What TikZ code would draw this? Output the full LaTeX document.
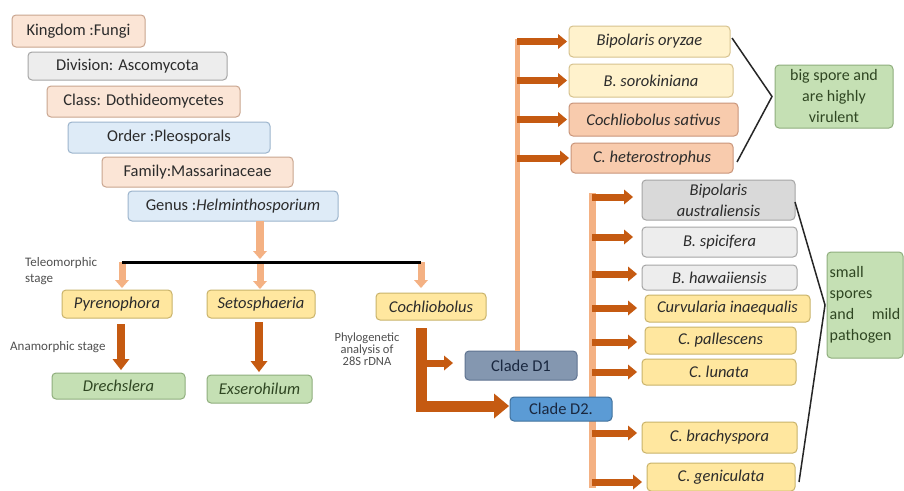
\documentclass[tikz,border=0pt]{standalone}
\usepackage{fontspec}
\setmainfont{Carlito}
\usetikzlibrary{arrows.meta}
\definecolor{txt}{HTML}{2B2B2B}
\definecolor{smalltxt}{HTML}{505050}
\definecolor{peachF}{HTML}{FBE5D6}\definecolor{peachD}{HTML}{C9A58F}
\definecolor{grayF}{HTML}{EDEDED}\definecolor{grayD}{HTML}{A5A5A5}
\definecolor{gray2F}{HTML}{D9D9D9}
\definecolor{blueF}{HTML}{DEEBF7}\definecolor{blueD}{HTML}{9CB4CC}
\definecolor{yelF}{HTML}{FFE79F}\definecolor{yelD}{HTML}{C9B36A}
\definecolor{lyelF}{HTML}{FFF2CC}\definecolor{lyelD}{HTML}{D6C28E}
\definecolor{salF}{HTML}{F8CBAD}\definecolor{salD}{HTML}{C9957A}
\definecolor{grnF}{HTML}{C5E0B4}\definecolor{grnD}{HTML}{8FAE7D}\definecolor{grnT}{HTML}{2F4622}
\definecolor{d1F}{HTML}{8497B0}\definecolor{d1D}{HTML}{5F7390}
\definecolor{d2F}{HTML}{5B9BD5}\definecolor{d2D}{HTML}{41719C}
\definecolor{navy}{HTML}{1A2840}
\definecolor{darkor}{HTML}{C55A11}
\definecolor{lsal}{HTML}{F4B183}
\newcommand\mybox[7]{\node[#1,minimum width={#5-#3},minimum height={#6-#4}] (#2) at ({(#3+#5)/2},{(#4+#6)/2}) {#7};}
\begin{document}
\begin{tikzpicture}[x=1pt,y=-1pt,
  box/.style={rounded corners=4pt,line width=1pt,inner sep=1pt,outer sep=0pt,
    font=\fontsize{16.5}{20}\selectfont,text=txt,align=center},
  peach/.style={box,fill=peachF,draw=peachD},
  grayb/.style={box,fill=grayF,draw=grayD},
  gray2b/.style={box,fill=gray2F,draw=grayD},
  blueb/.style={box,fill=blueF,draw=blueD},
  yelb/.style={box,fill=yelF,draw=yelD,font=\fontsize{16.5}{20}\selectfont\itshape},
  lyelb/.style={box,fill=lyelF,draw=lyelD,font=\fontsize{16.5}{20}\selectfont\itshape},
  salb/.style={box,fill=salF,draw=salD,font=\fontsize{16.5}{20}\selectfont\itshape},
  grnb/.style={box,fill=grnF,draw=grnD,text=grnT,font=\fontsize{16.5}{20}\selectfont\itshape},
  greenNote/.style={box,fill=grnF,draw=grnD,text=grnT,font=\fontsize{16}{21}\selectfont},
  smalllbl/.style={font=\fontsize{13}{16}\selectfont,text=smalltxt,inner sep=0pt},
  darr/.style={draw=darkor,line width=7pt,-{Triangle[length=9pt,width=15pt,line width=0pt]}},
  darrbig/.style={draw=darkor,line width=8pt,-{Triangle[length=11pt,width=17pt,line width=0pt]}},
  thickarr/.style={draw=darkor,line width=11pt,-{Triangle[length=15pt,width=25pt,line width=0pt]}},
  larr/.style={draw=lsal,line width=7pt,-{Triangle[length=8pt,width=14pt,line width=0pt]}},
  bracketline/.style={draw=black!85,line width=1.5pt}
]
\useasboundingbox (0,0) rectangle (904,490);
\fill[white] (0,0) rectangle (904,490);

% trunk of clade D2 (drawn first, lies behind the boxes)
\coordinate (btop) at (592,193);
\coordinate (bbot) at (592,488);
\draw[lsal,line width=7pt] (btop) -- (bbot);

% taxonomy ladder
\mybox{peach}{kingdom}{12}{15}{145}{47}{Kingdom :Fungi}
\mybox{grayb}{division}{28}{52}{227}{80}{Division: Ascomycota}
\mybox{peach}{class}{47}{86}{240}{117}{Class: Dothideomycetes}
\mybox{blueb}{order}{68}{122}{270}{153}{Order :Pleosporals}
\mybox{peach}{family}{102}{157}{293}{187}{Family:Massarinaceae}
\mybox{blueb}{genus}{128}{191}{338}{221}{Genus :\textit{Helminthosporium}}

% teleomorphs
\mybox{yelb}{pyr}{62}{290}{172}{318}{Pyrenophora}
\mybox{yelb}{seto}{207}{290}{315}{318}{Setosphaeria}
\mybox{yelb}{coch}{376}{293}{486}{320}{Cochliobolus}
% anamorphs
\mybox{grnb}{drech}{52}{373}{185}{399}{Drechslera}
\mybox{grnb}{exse}{207}{375}{312}{403}{Exserohilum}

% small labels
\node[smalllbl,anchor=west,align=left] (tele) at (25,271) {Teleomorphic\\stage};
\node[smalllbl,anchor=west] (ana) at (10,347) {Anamorphic stage};
\node[smalllbl,align=center,font=\fontsize{12.5}{12}\selectfont] (phylo) at (367,349) {Phylogenetic\\analysis of\\28S rDNA};

% genus -> teleomorph arrows
\coordinate (gA) at (260,259);
\coordinate (bl1) at (122,262);
\coordinate (bl2) at (260,262);
\coordinate (bl3) at (421,262);
\draw[larr,line width=8pt] (genus.south -| gA) -- (gA);
\draw[larr,shorten >=2pt] (bl1) -- (bl1 |- pyr.north);
\draw[larr,shorten >=1pt] (bl2) -- (bl2 |- seto.north);
\draw[larr,shorten >=5pt] (bl3) -- (bl3 |- coch.north);
\draw[black,line width=3pt] (bl1) -- (bl3);

% anamorphic arrows
\draw[darrbig,shorten <=6pt,shorten >=3pt] ([xshift=4pt]pyr.south) -- ([xshift=4pt]pyr.south |- drech.north);
\draw[darrbig,shorten <=4pt,shorten >=3pt] ([xshift=-2pt]seto.south) -- ([xshift=-2pt]seto.south |- exse.north);

% clades
\mybox{box,fill=d1F,draw=d1D,text=navy}{d1}{465}{351}{577}{380}{Clade D1}
\mybox{box,fill=d2F,draw=d2D,text=navy}{d2}{510}{397}{612}{421}{Clade D2.}

\coordinate (cc) at (421,406);
\coordinate (cb) at (421,363);
\draw[thickarr,shorten <=8pt,shorten >=1pt] ([xshift=-10pt]coch.south) -- (cc) -- (cc -| d2.west);
\draw[darr,shorten >=12pt] (cb) -- (cb -| d1.west);

% clade D1 members
\mybox{lyelb}{oryzae}{569}{26}{730}{57}{Bipolaris oryzae}
\mybox{lyelb}{soro}{569}{64}{733}{97}{B. sorokiniana}
\mybox{salb}{sativus}{569}{103}{738}{136}{Cochliobolus sativus}
\mybox{salb}{hetero}{571}{143}{733}{173}{C. heterostrophus}
\coordinate (ttop) at (517,39);
\draw[lsal,line width=5pt] (ttop |- d1.north) -- (ttop);
\foreach \n in {oryzae,soro,sativus,hetero}{
  \draw[darr,shorten >=2pt] (ttop |- \n.west) -- (\n.west);
}
\mybox{greenNote}{big}{775}{65}{893}{128}{big spore and\\are highly\\virulent}
\draw[bracketline] ([xshift=2pt,yshift=3.5pt]oryzae.east) -- ([xshift=-3pt]big.west) -- ([xshift=4pt,yshift=-4pt]hetero.east);

% clade D2 members
\mybox{gray2b,font=\fontsize{16.5}{21}\selectfont\itshape}{aus}{642}{180}{795}{220}{Bipolaris\\australiensis}
\mybox{grayb,font=\fontsize{16.5}{20}\selectfont\itshape}{spic}{642}{227}{797}{257}{B. spicifera}
\mybox{grayb,font=\fontsize{16.5}{20}\selectfont\itshape}{hawa}{642}{265}{797}{290}{B. hawaiiensis}
\mybox{yelb}{curv}{645}{295}{810}{322}{Curvularia inaequalis}
\mybox{yelb}{pall}{645}{327}{796}{354}{C. pallescens}
\mybox{yelb}{luna}{642}{359}{796}{385}{C. lunata}
\mybox{yelb}{brac}{642}{422}{797}{453}{C. brachyspora}
\mybox{yelb}{geni}{647}{463}{795}{491}{C. geniculata}
\foreach \n/\yy/\s in {aus/197/9,spic/237/9,hawa/274/5,curv/308/8,pall/342/8,luna/372/5,brac/433/5,geni/482/5}{
  \coordinate (b-\n) at (592,\yy);
  \draw[darr,shorten >=\s pt] (b-\n) -- (b-\n -| \n.west);
}
\mybox{greenNote,align=left}{small}{827}{252}{903}{358}{small\\spores\\and\hspace{1.1em}mild\\pathogen}
\draw[bracketline] ([yshift=-2pt]aus.east) -- ([xshift=-2pt]small.west) -- ([xshift=4pt,yshift=-5pt]geni.east);
\end{tikzpicture}
\end{document}
